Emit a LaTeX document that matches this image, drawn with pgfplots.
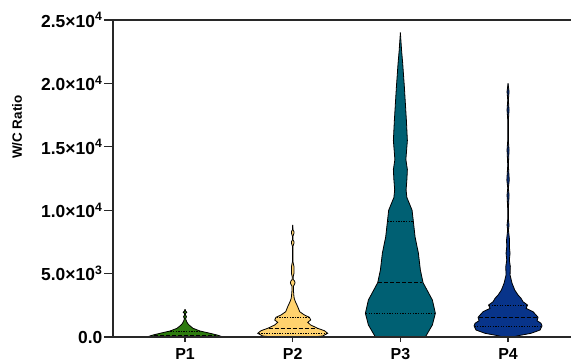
\documentclass[border=0pt]{standalone}
\usepackage{fontspec}
\setmainfont{Liberation Sans}
\usepackage{pgfplots}
\pgfplotsset{compat=1.18}
\usepackage{pgfplotstable}
\usepgfplotslibrary{fillbetween}
\usetikzlibrary{calc}
\definecolor{pone}{RGB}{44,122,14}
\definecolor{ptwo}{RGB}{255,210,110}
\definecolor{pthree}{RGB}{0,96,115}
\definecolor{pfour}{RGB}{8,52,138}
\definecolor{axc}{RGB}{40,40,40}
\newcommand\ytf{\bfseries\fontsize{17.5}{17.5}\selectfont}
\newcommand\xtf{\bfseries\fontsize{16}{16}\selectfont}
\newcommand\ylf{\bfseries\fontsize{13.5}{13.5}\selectfont}

% violin outlines: y = value, w = half width (px, 107.7 px per category)
\pgfplotstableread{
y w
0 36
55 36
158 32
292 25
473 15
686 8
946 4
1065 2.7
1207 1.7
1340 1
1460 0.6
1600 1.5
1735 0.5
1850 0.5
1950 1.8
2050 0.6
2185 0
}\Pone
\pgfplotstableread{
y w
0 20
79 30
292 35
497 31.7
686 25
946 18
1159 15
1341 18
1554 16.7
1735 11.7
1995 7
2390 5
2784 2.7
3052 1.5
3233 1.2
3707 0.7
4022 0.8
4150 1.8
4282 2.3
4420 1.8
4535 0.5
4732 0.4
5024 1.3
5544 1.3
5915 0.3
7177 0.3
7400 1.3
7516 1.3
7650 0.3
7965 0.3
8200 1.3
8304 1.3
8450 0.3
8833 0
}\Ptwo
\pgfplotstableread{
y w
0 25
950 32
1870 35
2920 32
4280 22.7
5280 20
6620 18
7890 14.7
9090 13
10000 11.7
11000 6.5
11600 5.7
12400 6.5
13200 7
14000 5.5
15500 7
17100 6
19700 4
21600 2.3
22600 1.2
24000 0
}\Pthree
\pgfplotstableread{
y w
0 5
100 10
290 23
550 32
870 34
1080 33
1285 29
1550 30
1735 28
1995 25
2260 18
2520 19.5
2780 15
3050 13
3310 10
3700 6.7
4235 4
4890 2
5540 2.3
6070 1.3
6600 2
7120 1.3
7650 1.5
8440 0.4
8830 1
9300 0.3
10020 0.3
11200 1
11750 0.3
12380 1.2
13560 0.3
14750 1
15500 0.3
17110 0.3
17900 1
18690 0.3
19345 1
20000 0
}\Pfour

\begin{document}
\begin{tikzpicture}
\begin{axis}[
  width=457.5bp, height=317bp, scale only axis,
  xmin=-0.669, xmax=3.58, ymin=0, ymax=25000,
  axis x line=box, axis y line=left,
  axis line style={-, line width=1.3bp, axc},
  axis on top,
  xtick={0,1,2,3}, xticklabels={\xtf P1,\xtf P2,\xtf P3,\xtf P4}, xtick pos=left,
  ytick={0,5000,10000,15000,20000,25000},
  yticklabels={\ytf 0.0,\ytf 5.0×10\textsuperscript{3},\ytf 1.0×10\textsuperscript{4},\ytf 1.5×10\textsuperscript{4},\ytf 2.0×10\textsuperscript{4},\ytf 2.5×10\textsuperscript{4}},
  scaled y ticks=false,
  tick align=outside, major tick length=9bp,
  tick style={line width=1.3bp, axc},
  xtick style={/pgfplots/major tick length=5bp},
  yticklabel style={inner sep=1.5bp},
  xticklabel style={inner sep=2bp},
  ylabel={\ylf W/C Ratio},
  every axis y label/.style={at={(axis description cs:-0.2098,0.662)}, rotate=90, anchor=center},
]
\coordinate (sw) at (rel axis cs:0,0);
\coordinate (ne) at (rel axis cs:1,1);
\pgfplotsset{vout/.style={draw=black, line width=0.8bp}}
% P1
\addplot[name path=p1r, vout] table[x expr=0+\thisrow{w}/107.7, y=y]{\Pone};
\addplot[name path=p1l, vout] table[x expr=0-\thisrow{w}/107.7, y=y]{\Pone};
\addplot[fill=pone, draw=none] fill between[of=p1r and p1l, reverse=true];
% P2
\addplot[name path=p2r, vout] table[x expr=1+\thisrow{w}/107.7, y=y]{\Ptwo};
\addplot[name path=p2l, vout] table[x expr=1-\thisrow{w}/107.7, y=y]{\Ptwo};
\addplot[fill=ptwo, draw=none] fill between[of=p2r and p2l, reverse=true];
% P3
\addplot[name path=p3r, vout] table[x expr=2+\thisrow{w}/107.7, y=y]{\Pthree};
\addplot[name path=p3l, vout] table[x expr=2-\thisrow{w}/107.7, y=y]{\Pthree};
\addplot[fill=pthree, draw=none] fill between[of=p3r and p3l, reverse=true];
% P4
\addplot[name path=p4r, vout] table[x expr=3+\thisrow{w}/107.7, y=y]{\Pfour};
\addplot[name path=p4l, vout] table[x expr=3-\thisrow{w}/107.7, y=y]{\Pfour};
\addplot[fill=pfour, draw=none] fill between[of=p4r and p4l, reverse=true];

% quartiles
\pgfplotsset{qdot/.style={black, line width=0.9bp, dash pattern=on 1.3bp off 1.3bp}, qdash/.style={black, line width=1bp, dash pattern=on 4bp off 2bp}}
\addplot[qdot] coordinates {(-0.320,40) (0.320,40)};
\addplot[qdash] coordinates {(-0.290,150) (0.290,150)};
\addplot[qdot] coordinates {(-0.160,400) (0.160,400)};

\addplot[qdot] coordinates {(0.851,1554) (1.149,1554)};
\addplot[qdash] coordinates {(0.777,686) (1.223,686)};
\addplot[qdot] coordinates {(0.684,292) (1.316,292)};

\addplot[qdot] coordinates {(1.884,9090) (2.116,9090)};
\addplot[qdash] coordinates {(1.796,4280) (2.204,4280)};
\addplot[qdot] coordinates {(1.680,1870) (2.320,1870)};

\addplot[qdot] coordinates {(2.824,2520) (3.176,2520)};
\addplot[qdash] coordinates {(2.726,1550) (3.274,1550)};
\addplot[qdot] coordinates {(2.689,870) (3.311,870)};
\end{axis}
\pgfresetboundingbox
\path[use as bounding box] ($(sw)+(-113bp,-26bp)$) rectangle ($(ne)+(0.5bp,20bp)$);
\end{tikzpicture}
\end{document}
